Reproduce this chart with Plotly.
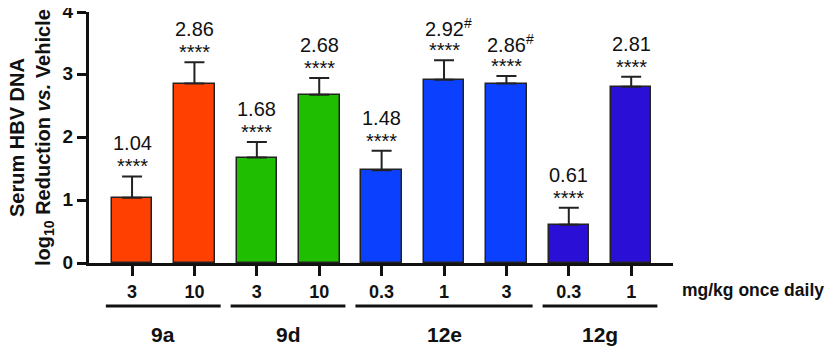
import plotly.graph_objects as go

# ---- data ----
doses = ["3", "10", "3", "10", "0.3", "1", "3", "0.3", "1"]
compounds = ["9a", "9a", "9d", "9d", "12e", "12e", "12e", "12g", "12g"]
values = [1.04, 2.86, 1.68, 2.68, 1.48, 2.92, 2.86, 0.61, 2.81]
errors = [0.34, 0.34, 0.25, 0.27, 0.31, 0.31, 0.12, 0.27, 0.16]
significance = ["****"] * 9
hash_flag = [False, False, False, False, False, True, True, False, False]
group_names = ["9a", "9d", "12e", "12g"]
colors = ["#FF4000", "#FF4000", "#20BE00", "#20BE00", "#0C40FF", "#0C40FF",
          "#0C40FF", "#2A10D6", "#2A10D6"]
unit_label = "mg/kg once daily"

FONT = "Liberation Sans"
xpos = list(range(len(values)))

fig = go.Figure()
fig.add_trace(go.Bar(
    x=xpos, y=values, width=0.65,
    marker=dict(color=colors, line=dict(color="#222222", width=1.5)),
    error_y=dict(type="data", array=errors, arrayminus=[0] * len(errors),
                 symmetric=False, color="#222222", thickness=2, width=10),
    showlegend=False, hoverinfo="skip",
))

# value and significance labels
for i, (v, e, s, h) in enumerate(zip(values, errors, significance, hash_flag)):
    txt = f"{v:.2f}" + ("<sup>#</sup>" if h else "")
    fig.add_annotation(x=i, y=v + e, xref="x", yref="y", text=txt,
                       showarrow=False, yanchor="middle", yshift=33,
                       xshift=4 if h else 0,
                       font=dict(family=FONT, size=20, color="#111111"))
    fig.add_annotation(x=i, y=v + e, xref="x", yref="y", text=s,
                       showarrow=False, yanchor="middle", yshift=10,
                       font=dict(family=FONT, size=20, color="#111111"))

# group lines and labels
for g in group_names:
    idx = [i for i, c in enumerate(compounds) if c == g]
    x0, x1 = min(idx) - 0.42, max(idx) + 0.42
    fig.add_shape(type="line", xref="x", yref="paper", x0=x0, x1=x1,
                  y0=-0.171, y1=-0.171, line=dict(color="#111111", width=3))
    fig.add_annotation(x=(min(idx) + max(idx)) / 2, y=-0.285, xref="x", yref="paper",
                       text=f"<b>{g}</b>", showarrow=False, yanchor="middle",
                       font=dict(family=FONT, size=21, color="#111111"))

fig.add_annotation(x=1.012, y=-0.108, xref="paper", yref="paper",
                   text=f"<b>{unit_label}</b>", showarrow=False,
                   xanchor="left", yanchor="middle",
                   font=dict(family=FONT, size=17.5, color="#111111"))

# y-axis title
fig.add_annotation(x=-0.0985, y=0.5, xref="paper", yref="paper",
                   text="<b>Serum HBV DNA</b><br><b>log<sub>10</sub> Reduction <i>vs.</i> Vehicle</b>",
                   showarrow=False, textangle=-90, xanchor="center", yanchor="middle",
                   font=dict(family=FONT, size=20, color="#111111"))

# page body has an 8px default margin: size the figure to fit the window
fig.update_layout(
    width=825, height=338,
    margin=dict(l=81, r=160, t=4, b=83, autoexpand=False),
    plot_bgcolor="white", paper_bgcolor="white",
    bargap=0,
    font=dict(family=FONT, color="#111111"),
)
fig.update_xaxes(
    range=[-0.69, 8.67], tickmode="array", tickvals=xpos,
    ticktext=[f"<b>{d}</b>" for d in doses],
    showline=True, linewidth=3, linecolor="#111111",
    ticks="outside", ticklen=10, tickwidth=3, tickcolor="#111111",
    tickfont=dict(family=FONT, size=18, color="#111111"),
    showgrid=False, zeroline=False, automargin=False,
    ticklabeloverflow="allow",
)
fig.update_yaxes(
    range=[0, 4], tickmode="array", tickvals=[0, 1, 2, 3, 4],
    ticktext=["<b>0</b>", "<b>1</b>", "<b>2</b>", "<b>3</b>", "<b>4</b>"],
    showline=True, linewidth=3, linecolor="#111111",
    ticks="outside", ticklen=9, tickwidth=3, tickcolor="#111111",
    tickfont=dict(family=FONT, size=19, color="#111111"),
    showgrid=False, zeroline=False, automargin=False,
    ticklabeloverflow="allow", ticklabelshift=-1,
)

fig.write_html("out.html")
